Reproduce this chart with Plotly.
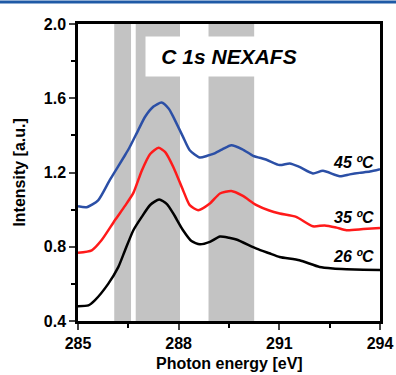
import plotly.graph_objects as go

# Data
e_45 = [285.0, 285.26, 285.6, 285.95, 286.4, 286.55, 286.8, 287.0, 287.25, 287.49, 287.7, 287.84, 288.13, 288.33, 288.63, 288.85, 289.03, 289.3, 289.57, 289.9, 290.22, 290.6, 291.01, 291.31, 291.6, 292.0, 292.3, 292.8, 293.1, 293.39, 293.7, 294.0]
i_45 = [1.018, 1.013, 1.05, 1.16, 1.293, 1.34, 1.43, 1.50, 1.555, 1.577, 1.545, 1.50, 1.392, 1.32, 1.281, 1.29, 1.30, 1.325, 1.347, 1.325, 1.29, 1.27, 1.24, 1.249, 1.23, 1.195, 1.209, 1.18, 1.19, 1.198, 1.205, 1.218]

e_35 = [285.0, 285.41, 285.7, 286.1, 286.4, 286.65, 286.9, 287.15, 287.4, 287.6, 287.84, 288.13, 288.33, 288.58, 288.93, 289.23, 289.57, 289.9, 290.32, 290.7, 291.01, 291.5, 292.0, 292.35, 292.7, 293.0, 293.5, 294.0]
i_35 = [0.767, 0.781, 0.835, 0.943, 1.02, 1.09, 1.21, 1.30, 1.333, 1.31, 1.23, 1.105, 1.024, 0.997, 1.033, 1.087, 1.10, 1.075, 1.024, 0.995, 0.979, 0.961, 0.910, 0.915, 0.903, 0.889, 0.895, 0.901]

e_26 = [285.0, 285.31, 285.5, 285.9, 286.2, 286.4, 286.65, 286.9, 287.15, 287.42, 287.65, 287.84, 288.13, 288.38, 288.63, 288.93, 289.23, 289.5, 289.72, 290.32, 290.7, 291.01, 291.6, 292.2, 292.6, 293.0, 293.5, 294.0]
i_26 = [0.48, 0.484, 0.511, 0.60, 0.69, 0.78, 0.889, 0.961, 1.025, 1.055, 1.03, 0.979, 0.889, 0.831, 0.813, 0.826, 0.855, 0.848, 0.839, 0.79, 0.765, 0.745, 0.727, 0.691, 0.683, 0.679, 0.676, 0.675]

series_names = ["26 ºC", "35 ºC", "45 ºC"]
series_colors = ["#000000", "#ff1a1a", "#2b4fa6"]

band_starts = [286.08, 286.72, 288.89]
band_ends = [286.58, 288.04, 290.25]

x_ticks = [285, 288, 291, 294]
y_ticks = [0.4, 0.8, 1.2, 1.6, 2.0]

fig = go.Figure()
for (xs, ys), name, col in zip([(e_26, i_26), (e_35, i_35), (e_45, i_45)], series_names, series_colors):
    fig.add_trace(go.Scatter(x=xs, y=ys, mode="lines", name=name,
                             line=dict(color=col, width=2.5, shape="spline", smoothing=0.6),
                             showlegend=False))

for x0, x1 in zip(band_starts, band_ends):
    fig.add_shape(type="rect", xref="x", yref="paper", x0=x0, x1=x1, y0=0, y1=1,
                  fillcolor="#c3c3c3", line=dict(width=0), layer="below")

label_font = dict(family="Arial", size=16, color="black", weight="bold", style="italic")
label_y = [0.749, 0.959, 1.256]
for name, ly in zip(series_names, label_y):
    fig.add_annotation(x=293.88, y=ly, text=name, showarrow=False, xanchor="right",
                       yanchor="middle", font=label_font)

fig.add_annotation(x=0.5, y=0.89, xref="paper", yref="paper", text="C 1s NEXAFS",
                   showarrow=False, bgcolor="white", width=166, height=39, borderpad=0,
                   xanchor="center", yanchor="middle",
                   font=dict(family="Arial", size=21, color="black", weight="bold", style="italic"))

axis_font = dict(family="Arial", size=16, color="black", weight="bold")

# axis titles
fig.add_annotation(x=0.5, y=-0.143, xref="paper", yref="paper", text="Photon energy [eV]",
                   showarrow=False, xanchor="center", yanchor="middle", font=axis_font)
fig.add_annotation(x=-0.195, y=0.5, xref="paper", yref="paper", text="Intensity [a.u.]",
                   showarrow=False, xanchor="center", yanchor="middle", textangle=-90, font=axis_font)

# top header rule
fig.add_shape(type="line", xref="paper", yref="paper", x0=-0.26, x1=1.06, y0=1.074, y1=1.074,
              line=dict(color="#1f5aa6", width=3), layer="above")

fig.update_xaxes(range=[285, 294], tickvals=x_ticks, ticks="outside", ticklen=6, tickwidth=2,
                 showline=True, linewidth=2.5, linecolor="black", mirror=True, showgrid=False,
                 zeroline=False, tickfont=axis_font, automargin=False,
                 minor=dict(dtick=1.5, tick0=285, ticks="outside", ticklen=4, tickwidth=2, tickcolor="black"))
fig.update_yaxes(range=[0.4, 2.0], tickvals=y_ticks, tickformat=".1f", ticks="outside", ticklen=6,
                 tickwidth=2, showline=True, linewidth=2.5, linecolor="black", mirror=True,
                 showgrid=False, zeroline=False, tickfont=axis_font, automargin=False,
                 minor=dict(dtick=0.2, tick0=0.4, ticks="outside", ticklen=4, tickwidth=2, tickcolor="black"))

fig.update_layout(width=396, height=375, margin=dict(l=78, r=16, t=24, b=54),
                  paper_bgcolor="white", plot_bgcolor="white")

fig.write_html("out.html")
